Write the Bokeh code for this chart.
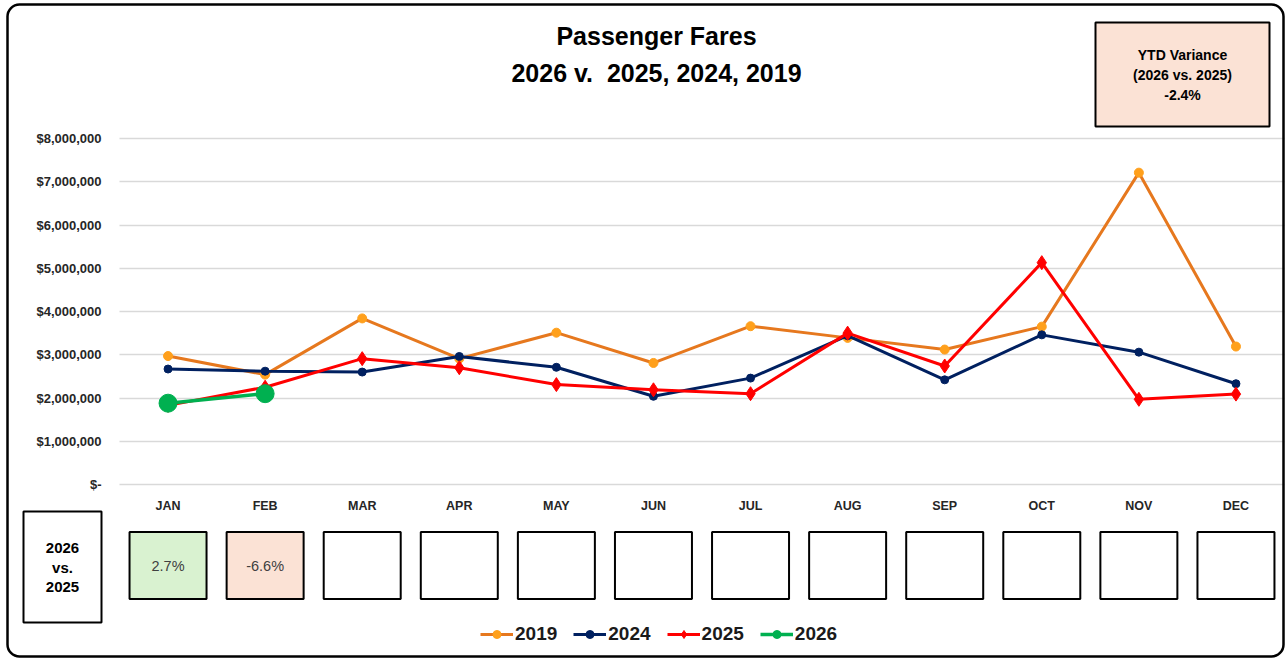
from bokeh.plotting import figure
from bokeh.models import (Range1d, FixedTicker, CustomJSTickFormatter,
                          Legend, LegendItem, BoxAnnotation)
from bokeh.core.properties import value
from bokeh.embed import file_html
from bokeh.resources import INLINE

# ---------------- data ----------------
months = ["JAN", "FEB", "MAR", "APR", "MAY", "JUN", "JUL", "AUG", "SEP", "OCT", "NOV", "DEC"]
fares_2019 = [2970000, 2540000, 3840000, 2910000, 3510000, 2810000, 3660000, 3390000, 3120000, 3650000, 7210000, 3190000]
fares_2024 = [2670000, 2620000, 2600000, 2960000, 2710000, 2040000, 2460000, 3440000, 2420000, 3460000, 3060000, 2330000]
fares_2025 = [1830000, 2250000, 2910000, 2700000, 2310000, 2190000, 2100000, 3500000, 2740000, 5130000, 1970000, 2090000]
months_2026 = ["JAN", "FEB"]
fares_2026 = [1880000, 2100000]
variance_pct = [2.7, -6.6, None, None, None, None, None, None, None, None, None, None]
ytd_variance = "-2.4%"
y_ticks = [0, 1000000, 2000000, 3000000, 4000000, 5000000, 6000000, 7000000, 8000000]
title_lines = ["Passenger Fares", "2026 v.\u00a0 2025, 2024, 2019"]
ytd_lines = ["YTD Variance", "(2026 vs. 2025)", ytd_variance]
side_lines = ["2026", "vs.", "2025"]

# category positions on the x scale (one unit per month)
month_x = {m: i + 0.5 for i, m in enumerate(months)}
x19 = [month_x[m] for m in months]
x26 = [month_x[m] for m in months_2026]

# ---------------- layout geometry (canvas pixels) ----------------
W, H = 1285, 658
FL, FR = 119, 1284           # plot area left / right
CW = (FR - FL) / len(months) # px per month
Y0 = 484                     # canvas y of $0
PPM = 43.25                  # px per million

def X(cx):
    return (cx - FL) / CW

def Y(cy):
    return (Y0 - cy) / PPM * 1e6

FONT = "Liberation Sans"

p = figure(x_range=Range1d(X(0), X(W)), y_range=Range1d(Y(H), Y(0)),
           width=W, height=H, output_backend="svg", toolbar_location=None,
           min_border_left=0, min_border_right=0, min_border_top=0, min_border_bottom=0,
           outline_line_color=None, background_fill_color="white", border_fill_color="white")

# y axis (placed at the plot-area edge)
ticker = FixedTicker(ticks=y_ticks)
ya = p.yaxis[0]
ya.fixed_location = 0
ya.ticker = ticker
ya.formatter = CustomJSTickFormatter(
    code="return tick == 0 ? '$-' : '$' + tick.toLocaleString('en-US');")
ya.axis_line_color = None
ya.major_tick_line_color = None
ya.minor_tick_line_color = None
ya.major_tick_out = 0
ya.major_tick_in = 0
ya.major_label_standoff = 18
ya.major_label_text_font = FONT
ya.major_label_text_font_style = "bold"
ya.major_label_text_font_size = "13px"
ya.major_label_text_color = "#262626"

# x axis (months) on the $0 line
xa = p.xaxis[0]
xa.fixed_location = 0
xa.ticker = FixedTicker(ticks=x19)
xa.major_label_overrides = {month_x[m]: m for m in months}
xa.axis_line_color = None
xa.major_tick_line_color = None
xa.minor_tick_line_color = None
xa.major_tick_out = 0
xa.major_tick_in = 0
xa.major_label_standoff = 14
xa.major_label_text_font = FONT
xa.major_label_text_font_style = "bold"
xa.major_label_text_font_size = "12.5px"
xa.major_label_text_color = "#262626"

p.ygrid.ticker = ticker
p.ygrid.grid_line_color = "#D9D9D9"
p.ygrid.grid_line_width = 1.5
p.ygrid.cross_bounds = (X(FL), X(FR))
p.xgrid.visible = False

# outer rounded border
p.add_layout(BoxAnnotation(left=X(7), right=X(1283), top=Y(4), bottom=Y(656),
                           fill_color=None, line_color="black", line_alpha=1, line_width=2.5,
                           border_radius=12, level="overlay"))

# title
p.text(x=[X(656), X(656)], y=[Y(35), Y(72)], text=title_lines,
       text_font=value(FONT), text_font_style="bold", text_font_size="25px",
       text_align="center", text_baseline="middle", text_color="black")

# YTD box
p.add_layout(BoxAnnotation(left=X(1095), right=X(1269), top=Y(22), bottom=Y(126),
                           fill_color="#FBE2D5", fill_alpha=1, line_color="black",
                           line_alpha=1, line_width=2, level="underlay"))
p.text(x=[X(1182)] * 3, y=[Y(54), Y(74), Y(94)], text=ytd_lines,
       text_font=value(FONT), text_font_style="bold", text_font_size="14px",
       text_align="center", text_baseline="middle", text_color="black")

# series
l19 = p.line(x19, fares_2019, line_color="#E6781E", line_width=3)
s19 = p.scatter(x19, fares_2019, marker="circle", size=9, fill_color="#FFA01C", line_color="#FFA01C")
l24 = p.line(x19, fares_2024, line_color="#002060", line_width=3)
s24 = p.scatter(x19, fares_2024, marker="circle", size=8, fill_color="#002060", line_color="#002060")
l25 = p.line(x19, fares_2025, line_color="#FF0000", line_width=3)
s25 = p.scatter(x19, fares_2025, marker="diamond", size=14, fill_color="#FF0000", line_color="#FF0000")
l26 = p.line(x26, fares_2026, line_color="#00B050", line_width=3.5)
s26 = p.scatter(x26, fares_2026, marker="circle", size=18, fill_color="#00B050", line_color="#00B050")

# monthly variance boxes
box_fill = ["#D9F2D0" if (v is not None and v > 0) else "#FBE2D5" if (v is not None and v < 0) else "white"
            for v in variance_pct]
box_text = ["" if v is None else f"{v:.1f}%" for v in variance_pct]
p.rect(x=x19, y=[Y(565)] * len(months), width=77 / CW, height=67 / PPM * 1e6,
       fill_color=box_fill, line_color="black", line_width=2)
p.text(x=x19, y=[Y(565)] * len(months), text=box_text,
       text_font=value(FONT), text_font_size="14.5px", text_align="center",
       text_baseline="middle", text_color="#404040")

# left side box
p.quad(left=[X(23)], right=[X(101)], top=[Y(511)], bottom=[Y(622)],
       fill_color="white", line_color="black", line_width=2)
p.text(x=[X(62)] * 3, y=[Y(547), Y(567), Y(586)], text=side_lines,
       text_font=value(FONT), text_font_style="bold", text_font_size="15px",
       text_align="center", text_baseline="middle", text_color="black")

# legend
legend = Legend(items=[LegendItem(label="2019", renderers=[l19, s19]),
                       LegendItem(label="2024", renderers=[l24, s24]),
                       LegendItem(label="2025", renderers=[l25, s25]),
                       LegendItem(label="2026", renderers=[l26, s26])],
                orientation="horizontal", location=(480, 13),
                label_text_font=FONT, label_text_font_style="bold",
                label_text_font_size="19px", label_text_color="#1a1a1a",
                glyph_width=33, glyph_height=20, label_standoff=2, spacing=16,
                padding=0, margin=0, border_line_color=None, background_fill_alpha=0)
p.add_layout(legend)

open("out.html", "w").write(file_html(p, INLINE))
